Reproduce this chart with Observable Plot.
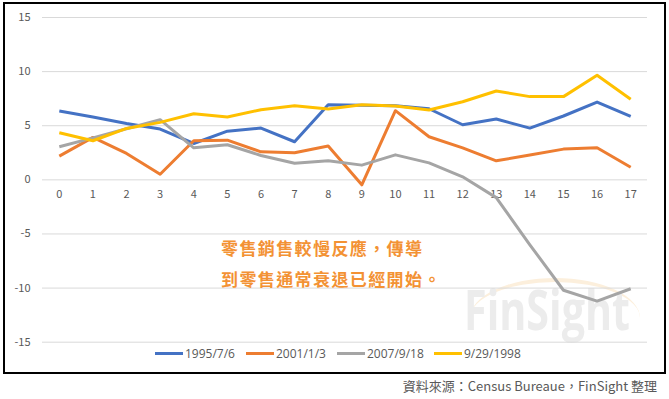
<!DOCTYPE html>
<html>
<head>
<meta charset="utf-8">
<script src="https://cdn.jsdelivr.net/npm/d3@7"></script>
<script src="https://cdn.jsdelivr.net/npm/@observablehq/plot@0.6"></script>
<style>
  html, body { margin: 0; padding: 0; background: #fff; }
  body { width: 669px; height: 399px; position: relative; overflow: hidden; font-family: "Noto Sans CJK TC", "Noto Sans", sans-serif; }
  #frame { position: absolute; left: 3px; top: 2px; width: 659px; height: 368px; border: 2px solid #000; box-sizing: content-box; }
  #arc { position: absolute; left: 470px; top: 278px; width: 170px; height: 40px; border-top: 4px solid #fcefdc; border-radius: 50% 50% 0 0 / 100% 100% 0 0; box-sizing: border-box; }
  #watermark { position: absolute; left: 464px; top: 280px; font-family: "Open Sans", "Noto Sans", sans-serif; font-weight: 700; font-size: 56px; color: #ececec; line-height: 1; white-space: nowrap; transform-origin: 0 0; }
  #chart { position: absolute; left: 0; top: 0; }
  #note { position: absolute; left: 221px; top: 232px; color: #F39234; font-size: 17px; font-weight: 700; line-height: 31px; letter-spacing: 1.4px; white-space: nowrap; }
  #legend { position: absolute; top: 345px; left: 0; width: 669px; height: 16px; font-size: 12px; color: #595959; font-family: "Open Sans", "Noto Sans", sans-serif; }
  .item { position: absolute; top: 0; display: flex; align-items: center; height: 16px; }
  .sw { width: 28px; height: 3px; margin-right: 2px; }
  #caption { position: absolute; right: 12px; top: 376px; font-size: 13px; color: #595959; }
</style>
</head>
<body>
<div id="arc"></div>
<div id="watermark">FinSight</div>
<div id="chart"></div>
<div id="frame"></div>
<div id="note">零售銷售較慢反應，傳導<br>到零售通常衰退已經開始。</div>
<div id="legend"></div>
<div id="caption">資料來源：Census Bureaue，FinSight 整理</div>
<script>
const xLabels = [0,1,2,3,4,5,6,7,8,9,10,11,12,13,14,15,16,17];
const seriesNames = ["1995/7/6", "2001/1/3", "2007/9/18", "9/29/1998"];
const seriesColors = ["#4472C4", "#ED7D31", "#A5A5A5", "#FFC000"];
const s1995 = [6.36, 5.8, 5.2, 4.69, 3.36, 4.5, 4.78, 3.52, 6.94, 6.9, 6.85, 6.57, 5.09, 5.62, 4.78, 5.9, 7.19, 5.86];
const s2001 = [2.19, 3.92, 2.44, 0.52, 3.61, 3.67, 2.59, 2.5, 3.12, -0.46, 6.39, 3.98, 2.96, 1.76, 2.29, 2.84, 2.96, 1.17];
const s2007 = [3.06, 3.88, 4.72, 5.56, 2.96, 3.24, 2.25, 1.54, 1.76, 1.36, 2.31, 1.57, 0.28, -1.64, -6.0, -10.2, -11.2, -10.06];
const s1998 = [4.35, 3.61, 4.75, 5.31, 6.11, 5.8, 6.48, 6.85, 6.54, 6.94, 6.82, 6.45, 7.22, 8.21, 7.69, 7.69, 9.66, 7.44];
const yTicks = [-15, -10, -5, 0, 5, 10, 15];

const allSeries = [s1995, s2001, s2007, s1998];
const rows = [];
allSeries.forEach((vals, i) => vals.forEach((v, j) => rows.push({x: xLabels[j], y: v, s: seriesNames[i]})));

const font = "'Noto Sans CJK TC', 'Noto Sans', sans-serif";
const chart = Plot.plot({
  width: 669,
  height: 374,
  marginTop: 17,
  marginBottom: 32.3,
  marginLeft: 42,
  marginRight: 22,
  style: {background: "transparent", fontFamily: font, fontSize: "11px", color: "#595959"},
  x: {type: "point", domain: xLabels, padding: 0.5, round: false, axis: null},
  y: {domain: [-15, 15], ticks: yTicks},
  color: {domain: seriesNames, range: seriesColors},
  marks: [
    Plot.gridY(yTicks, {stroke: "#d9d9d9", strokeOpacity: 1, strokeWidth: 1}),
    Plot.axisY(yTicks, {tickSize: 0, tickPadding: 12, label: null, fill: "#595959", fontSize: 11, tickFormat: d => String(d)}),
    Plot.text(xLabels, {x: d => d, y: 0, dy: 15, text: d => String(d), fill: "#595959", fontSize: 11}),
    Plot.line(rows, {x: "x", y: "y", z: "s", stroke: "s", strokeWidth: 3, strokeLinejoin: "round", strokeLinecap: "butt"})
  ]
});
document.getElementById("chart").appendChild(chart);

// fit the watermark into its box
const wm = document.getElementById("watermark");
const w = wm.getBoundingClientRect().width;
wm.style.transform = `scaleX(${166 / w})`;

const legendLefts = [155, 246, 337, 434];
const legend = document.getElementById("legend");
seriesNames.forEach((n, i) => {
  const it = document.createElement("div");
  it.className = "item";
  it.style.left = legendLefts[i] + "px";
  const sw = document.createElement("div");
  sw.className = "sw";
  sw.style.background = seriesColors[i];
  const t = document.createElement("span");
  t.textContent = n;
  it.appendChild(sw); it.appendChild(t);
  legend.appendChild(it);
});
</script>
</body>
</html>
